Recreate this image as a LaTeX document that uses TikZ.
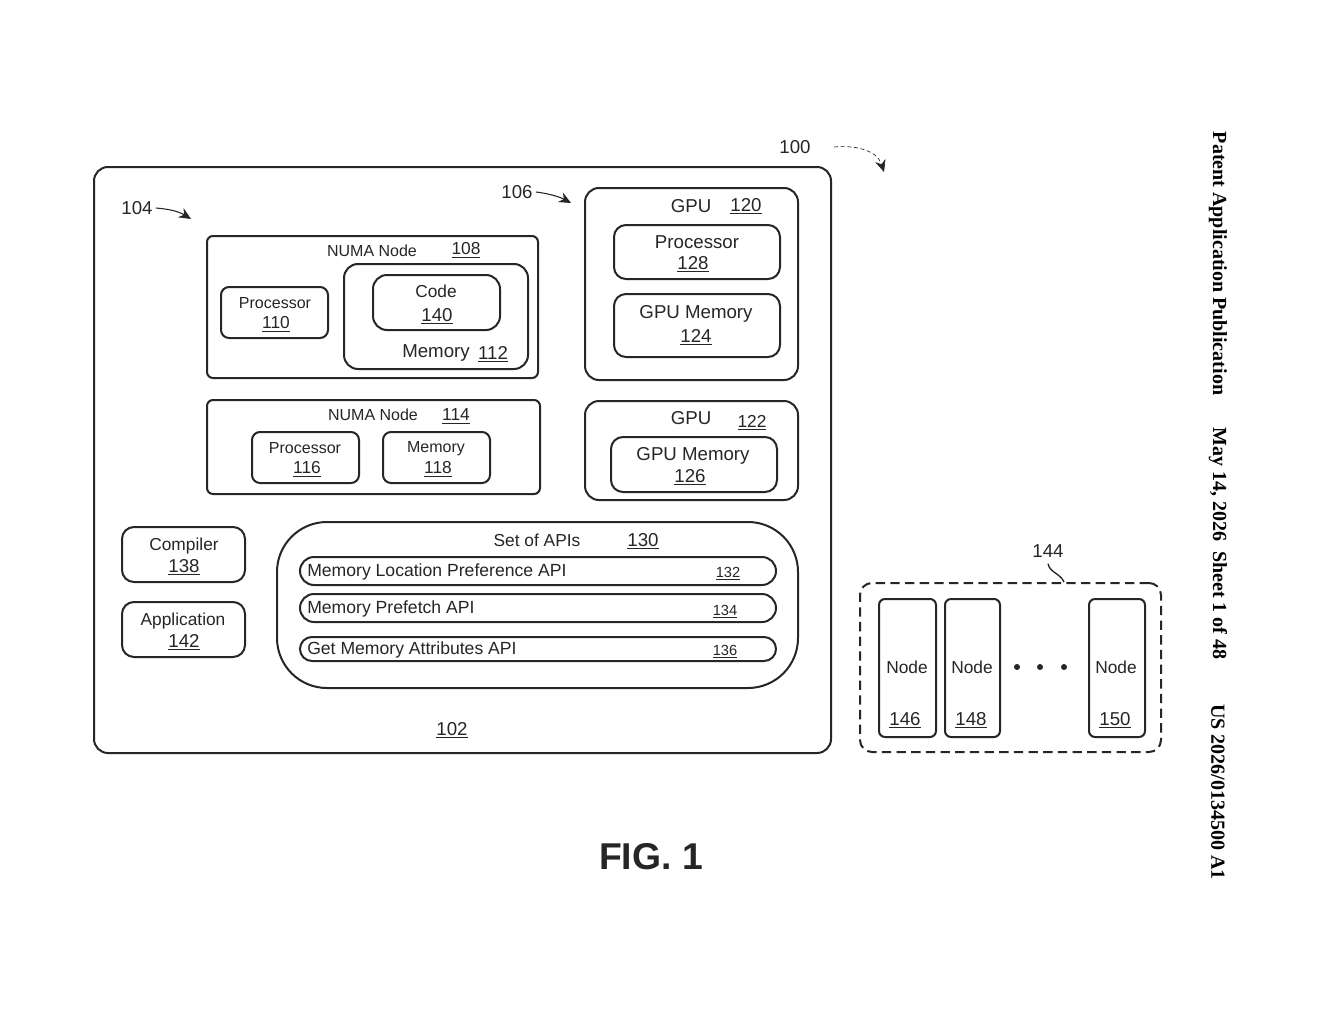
\documentclass[tikz,border=0pt]{standalone}
\usepackage{fontspec}
\setmainfont{Liberation Sans}
\newfontfamily\sidefont{Liberation Serif}
\usetikzlibrary{arrows.meta}
\definecolor{ink}{HTML}{262626}
\newcommand{\bx}[7][solidbox]{%
  \pgfmathsetmacro{\cxv}{(#4+#6)/2}\pgfmathsetmacro{\cyv}{(#5+#7)/2}%
  \pgfmathsetmacro{\wv}{(#6-#4)*0.75}\pgfmathsetmacro{\hv}{(#7-#5)*0.75}%
  \node[#1,rounded corners=#3*0.75pt,minimum width=\wv pt,minimum height=\hv pt] (#2) at (\cxv,\cyv) {};}
\newcommand{\un}[1]{\rlap{\smash{\underline{#1}}}\phantom{#1}}
\tikzset{
  x=0.75pt,y=-0.75pt,
  solidbox/.style={draw=ink,line width=1.5pt,inner sep=0pt,outer sep=0pt},
  dashbox/.style={draw=ink,line width=1.5pt,inner sep=0pt,outer sep=0pt,dash pattern=on 7pt off 4pt},
  lbl/.style={inner sep=0pt,text=ink,font=\fontsize{14}{16}\selectfont},
  lblm/.style={inner sep=0pt,text=ink,font=\fontsize{13}{15}\selectfont},
  lbls/.style={inner sep=0pt,text=ink,font=\fontsize{12}{14}\selectfont},
  lblx/.style={inner sep=0pt,text=ink,font=\fontsize{11}{13}\selectfont},
  leftlbl/.style={inner sep=0pt,text=ink,anchor=west,font=\fontsize{13.2}{15}\selectfont},
  lead/.style={draw=ink,line width=0.8pt,-{Stealth[length=9pt,width=8pt]}},
  side/.style={inner sep=0pt,rotate=-90,text=black,font=\sidefont\bfseries\fontsize{15}{17}\selectfont},
}
\begin{document}
\begin{tikzpicture}
\useasboundingbox (0,0) rectangle (1320,1024);
\fill[white] (0,0) rectangle (1320,1024);
\bx{b102}{14}{94}{167}{831}{753}
\bx{b120}{14}{585}{188}{798}{380}
\bx{b128}{12}{614}{225}{780}{279}
\bx{b124}{12}{614}{294}{780}{357}
\bx{b122}{14}{585}{401}{798}{500}
\bx{b126}{12}{611}{437}{777}{492}
\bx{b108}{6}{207}{236}{538}{378}
\bx{b110}{8}{221}{287}{328}{338}
\bx{b112}{14}{344}{264}{528}{369}
\bx{b140}{14}{373}{275}{500}{330}
\bx{b114}{6}{207}{400}{540}{494}
\bx{b116}{8}{252}{432}{359}{483}
\bx{b118}{8}{383}{432}{490}{483}
\bx{b138}{12}{122}{527}{245}{582}
\bx{b142}{12}{122}{602}{245}{657}
\bx{b130}{50}{277}{522}{798}{688}
\bx{b132}{14}{300}{557}{776}{585}
\bx{b134}{14}{300}{594}{776}{622}
\bx{b136}{12}{300}{637}{776}{661}
\bx[dashbox]{b144}{12}{860}{583}{1161}{752}
\bx{b146}{6}{879}{599}{936}{737}
\bx{b148}{6}{945}{599}{1000}{737}
\bx{b150}{6}{1089}{599}{1145}{737}

\node[lbl] (t100) at (795,147) {100};
\node[lbl] (t104) at (137,208) {104};
\node[lbl] (t106) at (517,192) {106};
\node[lbls] (t108a) at (372,251) {NUMA Node};
\node[lblm] (t108) at (466,249) {\un{108}};
\node[lbls] (t110a) at (275,303) {Processor};
\node[lblm] (t110) at (276,323) {\un{110}};
\node[lblm] (t140a) at (436,291) {Code};
\node[lbl] (t140) at (437,315) {\un{140}};
\node[lbl] (t112a) at (436,353) {Memory};
\node[lbl] (t112) at (493,353) {\un{112}};
\node[lbl] (t120a) at (691,206) {GPU};
\node[lbl] (t120) at (746,205) {\un{120}};
\node[lbl] (t128a) at (697,242) {Processor};
\node[lbl] (t128) at (693,263) {\un{128}};
\node[lbl] (t124a) at (696,314) {GPU Memory};
\node[lbl] (t124) at (696,336) {\un{124}};
\node[lbls] (t114a) at (373,415) {NUMA Node};
\node[lblm] (t114) at (456,415) {\un{114}};
\node[lbls] (t116a) at (305,448) {Processor};
\node[lblm] (t116) at (307,468) {\un{116}};
\node[lbls] (t118a) at (436,449) {Memory};
\node[lblm] (t118) at (438,468) {\un{118}};
\node[lbl] (t122a) at (691,418) {GPU};
\node[lblm] (t122) at (752,421) {\un{122}};
\node[lbl] (t126a) at (693,456) {GPU Memory};
\node[lbl] (t126) at (690,476) {\un{126}};
\node[lblm] (t138a) at (184,546) {Compiler};
\node[lbl] (t138) at (184,566) {\un{138}};
\node[lblm] (t142a) at (183,621) {Application};
\node[lbl] (t142) at (184,641) {\un{142}};
\node[lblm] (t130a) at (537,540) {Set of APIs};
\node[lbl] (t130) at (643,540) {\un{130}};
\node[leftlbl] (t132a) at (307,572) {Memory Location Preference API};
\node[lblx] (t132) at (728,572) {\un{132}};
\node[leftlbl] (t134a) at (307,609) {Memory Prefetch API};
\node[lblx] (t134) at (725,610) {\un{134}};
\node[leftlbl] (t136a) at (307,650) {Get Memory Attributes API};
\node[lblx] (t136) at (725,650) {\un{136}};
\node[lbl] (t102) at (452,729) {\un{102}};
\node[lbl] (t144) at (1048,551) {144};
\node[lblm] (t146a) at (907,667) {Node};
\node[lbl] (t146) at (905,719) {\un{146}};
\node[lblm] (t148a) at (972,667) {Node};
\node[lbl] (t148) at (971,719) {\un{148}};
\node[lblm] (t150a) at (1116,667) {Node};
\node[lbl] (t150) at (1115,719) {\un{150}};
\fill[ink] (1017,667) circle (3*0.75pt) (1040,667) circle (3*0.75pt) (1064,667) circle (3*0.75pt);
\node[inner sep=0pt,text=ink,font=\bfseries\fontsize{28}{30}\selectfont] (fig) at (651,857) {FIG. 1};
\node[side] (s1) at (1218,263.5) {Patent Application Publication};
\node[side] (s2) at (1218,543.5) {May 14, 2026\ \ Sheet 1 of 48};
\node[side] (s3) at (1218,792) {US 2026/0134500 A1};

\coordinate (a100s) at (834,147);
\coordinate (a100e) at (884,172);
\coordinate (a104e) at (191,219);
\coordinate (a106e) at (571,203);
\coordinate (a144e) at (1064,582);
\draw[lead,line width=0.5pt,densely dashed] (a100s) .. controls (855,145) and (877,150) .. (a100e);
\draw[lead] (t104.east) ++(3,0) .. controls (168,209) and (178,211) .. (a104e);
\draw[lead] (t106.east) ++(3,0) .. controls (545,193) and (558,196) .. (a106e);
\draw[draw=ink,line width=1pt] (t144.south) ++(0,6) .. controls (1050,573) and (1060,573) .. (a144e);
\end{tikzpicture}
\end{document}
